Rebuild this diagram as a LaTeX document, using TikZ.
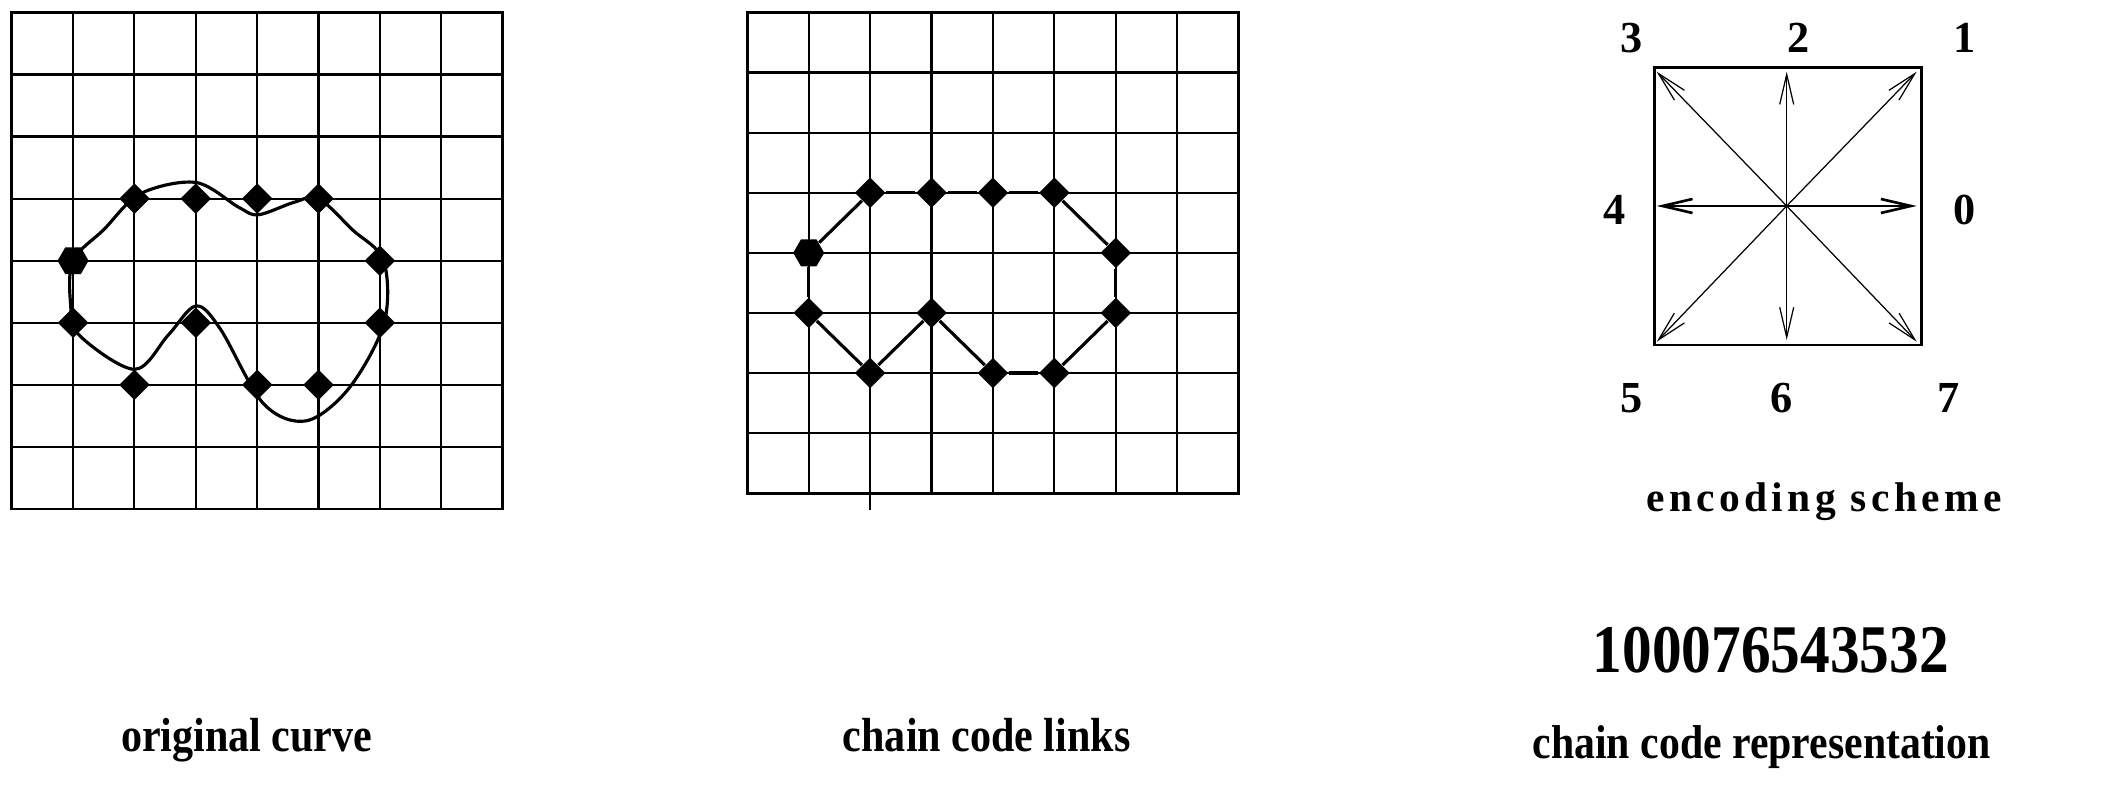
\documentclass[tikz,border=0pt]{standalone}
\usepackage{fontspec}
\usepackage{graphicx}
\setmainfont{Liberation Serif}
\usetikzlibrary{shapes.geometric,arrows.meta}

\tikzset{
  gridline/.style={line width=0.6pt},
  gridframe/.style={line width=0.8pt},
  vertex/.style={diamond, fill=black, inner sep=0pt, minimum size=0.31cm},
  startvertex/.style={regular polygon, regular polygon sides=6, fill=black, inner sep=0pt, minimum size=0.31cm},
  link/.style={line width=0.9pt},
  dirarrow/.style={line width=0.35pt, -{Straight Barb[length=0.3cm,width=0.14cm]}},
  caption/.style={font=\bfseries\fontsize{13.6}{16}\selectfont, anchor=base, inner sep=0pt},
  codelabel/.style={font=\bfseries\fontsize{12.6}{15}\selectfont, inner sep=0pt},
}
\newcommand{\squeeze}[1]{\scalebox{0.88}[1]{#1}}

\begin{document}
\begin{tikzpicture}[x=0.01cm, y=-0.01cm]
  \useasboundingbox (0,0) rectangle (2126,810);

  % Original curve on its grid
  \begin{scope}[shift={(11.7,509)}, x=0.6133cm, y=0.6204cm]
    \foreach \i in {1,...,7} {
      \draw[gridline] (\i,0) -- (\i,8);
      \draw[gridline] (0,\i) -- (8,\i);
    }
    \draw[gridframe] (0,0) rectangle (8,8);
    \draw[link] plot[smooth cycle, tension=0.55] coordinates {(1,4) (1.5,4.5) (2.1,5.08) (3,5.26) (3.7,4.86) (4.02,4.74) (4.6,4.94) (5,5) (5.55,4.5) (6.06,4) (6.07,3) (5.5,1.95) (4.8,1.42) (4.1,1.7) (3.4,2.9) (3,3.27) (2.55,2.8) (2,2.25) (1.1,2.8) (0.96,3.3)};
    \node[startvertex] (o1) at (1,4) {};
    \foreach \n/\x/\y in {2/2/5, 3/3/5, 4/4/5, 5/5/5, 6/6/4, 7/6/3, 8/5/2, 9/4/2, 10/3/3, 11/2/2, 12/1/3}
      \node[vertex] (o\n) at (\x,\y) {};
  \end{scope}

  % Chain code links on the second grid
  \begin{scope}[shift={(747.3,493.3)}, x=0.6138cm, y=0.6008cm]
    \foreach \i in {1,...,7} {
      \draw[gridline] (\i,0) -- (\i,8);
      \draw[gridline] (0,\i) -- (8,\i);
    }
    \draw[gridframe] (0,0) rectangle (8,8);
    \coordinate (tick) at (2,-0.27);
    \draw[gridline] (2,0) -- (tick);
    \node[startvertex] (c1) at (1,4) {};
    \foreach \n/\x/\y in {2/2/5, 3/3/5, 4/4/5, 5/5/5, 6/6/4, 7/6/3, 8/5/2, 9/4/2, 10/3/3, 11/2/2, 12/1/3}
      \node[vertex] (c\n) at (\x,\y) {};
    \foreach \a/\b in {1/2, 2/3, 3/4, 4/5, 5/6, 6/7, 7/8, 8/9, 9/10, 10/11, 11/12, 12/1}
      \draw[link] (c\a) -- (c\b);
  \end{scope}

  % Encoding scheme
  \node[draw, gridframe, minimum width=2.667cm, minimum height=2.773cm, inner sep=0pt] (enc) at (1788.3,206.3) {};
  \coordinate (ctr) at (1786.7,206);
  \coordinate (d0) at (1916.7,206);
  \coordinate (d1) at (1916.7,71.7);
  \coordinate (d2) at (1786.7,71.7);
  \coordinate (d3) at (1656.7,71.7);
  \coordinate (d4) at (1656.7,206);
  \coordinate (d5) at (1656.7,341.7);
  \coordinate (d6) at (1786.7,340);
  \coordinate (d7) at (1916.7,341.7);
  \foreach \k in {1,2,3,5,6,7}
    \draw[dirarrow] (ctr) -- (d\k);
  \draw[dirarrow, line width=0.75pt] (ctr) -- (d0);
  \draw[dirarrow, line width=0.75pt] (ctr) -- (d4);

  \node[codelabel] (l0) at (1965,210) {0};
  \node[codelabel] (l1) at (1965,38.3) {1};
  \node[codelabel] (l2) at (1798.3,38.3) {2};
  \node[codelabel] (l3) at (1631.7,38.3) {3};
  \node[codelabel] (l4) at (1615,210) {4};
  \node[codelabel] (l5) at (1631.7,398.3) {5};
  \node[codelabel] (l6) at (1781.7,398.3) {6};
  \node[codelabel] (l7) at (1948.3,398.3) {7};

  % Captions
  \node[caption] (origcap) at (246.7,752) {\squeeze{original curve}};
  \node[caption] (linkcap) at (986.7,752) {\squeeze{chain code links}};
  \node[caption, font=\bfseries\fontsize{11.8}{14}\selectfont\addfontfeature{LetterSpace=10.5}] (enccap) at (1824,511.7) {encoding scheme};
  \node[caption, font=\bfseries\fontsize{19.4}{23}\selectfont] (code) at (1770.8,672.7) {\scalebox{0.87}[1]{100076543532}};
  \node[caption, font=\bfseries\fontsize{13.5}{16}\selectfont] (repcap) at (1761.7,758.3) {\squeeze{chain code representation}};
\end{tikzpicture}
\end{document}
